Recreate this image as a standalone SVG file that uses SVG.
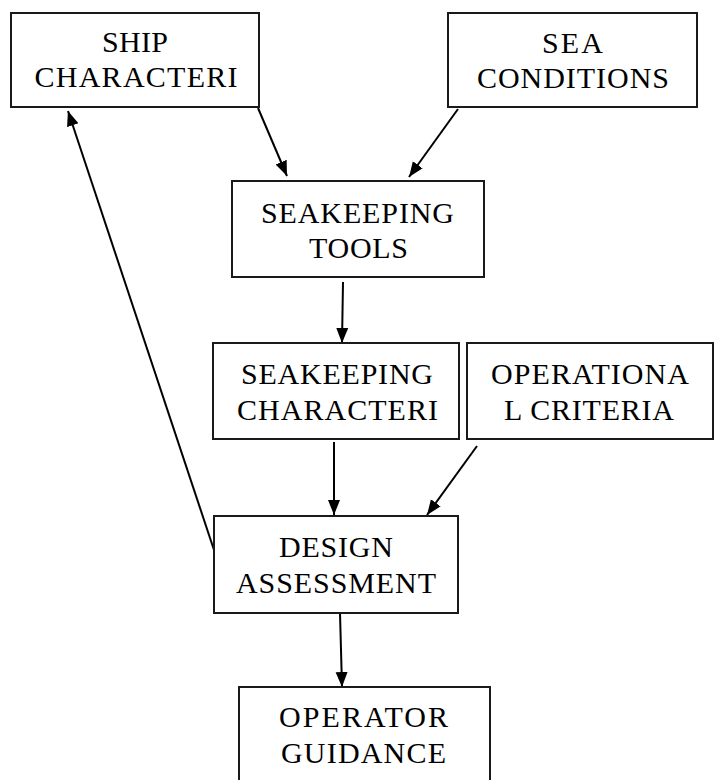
<svg xmlns="http://www.w3.org/2000/svg" width="716" height="780" viewBox="0 0 716 780">
<style>
.box{fill:#fff;stroke:#1a1a1a;stroke-width:2}
.t{font-family:"Liberation Serif","Times New Roman",serif;font-size:30px;fill:#000;text-anchor:middle}
.c{stroke:#000;stroke-width:2;fill:none;marker-end:url(#ah)}
</style>
<defs>
<marker id="ah" markerUnits="userSpaceOnUse" markerWidth="16" markerHeight="14" refX="15" refY="7" orient="auto">
<path d="M0,1 L15,7 L0,13 Z" fill="#000"/>
</marker>
</defs>
<rect width="716" height="780" fill="#fff"/>
<g id="connectors">
<line class="c" x1="258" y1="108" x2="287" y2="176"/>
<line class="c" x1="458" y1="109" x2="409" y2="177"/>
<line class="c" x1="343" y1="282" x2="342" y2="343"/>
<line class="c" x1="334" y1="442" x2="334" y2="515"/>
<line class="c" x1="477" y1="446" x2="427" y2="515"/>
<line class="c" x1="340" y1="613" x2="342" y2="687"/>
<line class="c" x1="214" y1="550" x2="68" y2="111"/>
</g>
<g id="ship">
<rect class="box" x="11" y="13" width="248" height="94"/>
<text class="t" x="135" y="52" textLength="66" lengthAdjust="spacing">SHIP</text>
<text class="t" x="136" y="87" textLength="203" lengthAdjust="spacing">CHARACTERI</text>
</g>
<g id="sea">
<rect class="box" x="448" y="13" width="249" height="94"/>
<text class="t" x="572.5" y="53" textLength="61" lengthAdjust="spacing">SEA</text>
<text class="t" x="573" y="88" textLength="192" lengthAdjust="spacing">CONDITIONS</text>
</g>
<g id="tools">
<rect class="box" x="232" y="181" width="252" height="96"/>
<text class="t" x="357.5" y="223" textLength="193" lengthAdjust="spacing">SEAKEEPING</text>
<text class="t" x="358.5" y="258" textLength="99" lengthAdjust="spacing">TOOLS</text>
</g>
<g id="seachar">
<rect class="box" x="213" y="343" width="246" height="96"/>
<text class="t" x="337" y="384" textLength="192" lengthAdjust="spacing">SEAKEEPING</text>
<text class="t" x="337.5" y="420" textLength="201" lengthAdjust="spacing">CHARACTERI</text>
</g>
<g id="opcrit">
<rect class="box" x="467" y="343" width="246" height="96"/>
<text class="t" x="590" y="384" textLength="198" lengthAdjust="spacing">OPERATIONA</text>
<text class="t" x="589" y="420" textLength="170" lengthAdjust="spacing">L CRITERIA</text>
</g>
<g id="design">
<rect class="box" x="214" y="516" width="244" height="97"/>
<text class="t" x="336" y="557" textLength="114" lengthAdjust="spacing">DESIGN</text>
<text class="t" x="336" y="593" textLength="200" lengthAdjust="spacing">ASSESSMENT</text>
</g>
<g id="operator">
<rect class="box" x="239" y="687" width="251" height="110"/>
<text class="t" x="363.5" y="727" textLength="169" lengthAdjust="spacing">OPERATOR</text>
<text class="t" x="363.5" y="763" textLength="165" lengthAdjust="spacing">GUIDANCE</text>
</g>
</svg>
